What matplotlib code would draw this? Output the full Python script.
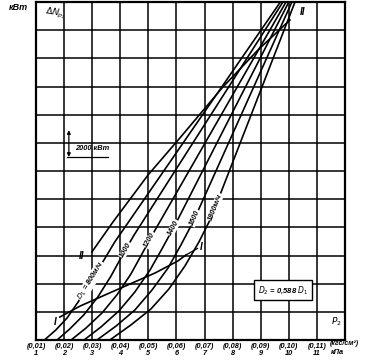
"""Nomogram: power loss dN_p2 against pressure P2 for several D1 flows."""

import numpy as np
import matplotlib.pyplot as plt

# x: pressure P2, kPa (kgf/cm2 in brackets); y: power, kW (one cell = 2000 kW)
tick_kpa = list(range(1, 12))
tick_kgf = ["(0,01)", "(0,02)", "(0,03)", "(0,04)", "(0,05)", "(0,06)",
            "(0,07)", "(0,08)", "(0,09)", "(0,10)", "(0,11)"]

x800 = [1.3, 1.7, 2.1, 2.5, 2.9, 3.35, 3.8, 9.7]
y800 = [0, 700, 1550, 2700, 4000, 5450, 6950, 24000]
x1000 = [1.75, 2.2, 2.7, 3.2, 3.67, 4.06, 4.49, 9.79]
y1000 = [0, 780, 1780, 3050, 4540, 5960, 7450, 24000]
x1200 = [2.25, 2.78, 3.35, 3.88, 4.38, 4.81, 5.24, 9.9]
y1200 = [0, 850, 1920, 3200, 4690, 6250, 7810, 24000]
x1400 = [2.71, 3.31, 3.95, 4.52, 5.06, 5.52, 5.95, 10.0]
y1400 = [0, 920, 2060, 3410, 4970, 6600, 8170, 24000]
x1600 = [3.17, 3.85, 4.52, 5.13, 5.7, 6.16, 6.59, 10.11]
y1600 = [0, 990, 2130, 3550, 5110, 6750, 8380, 24000]
x1800 = [3.63, 4.38, 5.09, 5.73, 6.3, 6.8, 7.23, 10.22]
y1800 = [0, 1070, 2200, 3620, 5250, 6960, 8660, 24000]

# boundary curves I and II
xI = [1.85, 2.57, 3.46, 4.35, 5.24, 6.05, 6.34]
yI = [1630, 2410, 3200, 3980, 4760, 5610, 6040]
xII = [2.99, 3.74, 4.99, 6.12, 7.62, 8.9, 10.04]
yII = [6250, 8380, 11720, 14340, 17890, 20590, 22720]

family = [
    (x800, y800, "$D_1$ = 800м/ч", 4190),
    (x1000, y1000, "1000", 6390),
    (x1200, y1200, "1200", 7100),
    (x1400, y1400, "1400", 7950),
    (x1600, y1600, "1600", 8660),
    (x1800, y1800, "1800м/ч", 9440),
]

FONT = ["Liberation Sans", "DejaVu Sans"]
TXT = dict(family=FONT, style="italic", fontweight="bold", color="black")


def slope_angle(ax, xs, ys, yv):
    """On-screen angle (deg) of the polyline at height yv."""
    i = int(np.clip(np.searchsorted(ys, yv), 1, len(ys) - 1))
    p0 = ax.transData.transform((xs[i - 1], ys[i - 1]))
    p1 = ax.transData.transform((xs[i], ys[i]))
    return np.degrees(np.arctan2(p1[1] - p0[1], p1[0] - p0[0]))


def main() -> None:
    fig = plt.figure(figsize=(3.69, 3.6), dpi=100)
    ax = fig.add_axes([36 / 369, 20 / 360, 309 / 369, 338 / 360])
    ax.set_xlim(1, 12)
    ax.set_ylim(0, 24000)
    ax.set_xticks(range(1, 13))
    ax.set_xticklabels([f"{k}\n{n}" for k, n in zip(tick_kgf, tick_kpa)] + [""],
                       fontsize=5.3, linespacing=1.0, **TXT)
    ax.set_yticks(range(0, 24001, 2000))
    ax.set_yticklabels([])
    ax.tick_params(length=0, pad=2)
    ax.grid(color="black", lw=1.1)
    for s in ax.spines.values():
        s.set_linewidth(1.6)

    for xs, ys, label, yl in family:
        ax.plot(xs, ys, color="black", lw=1.2, zorder=3)
        xl = np.interp(yl, ys, xs)
        ax.text(xl, yl, label, fontsize=5.3, rotation=slope_angle(ax, xs, ys, yl),
                rotation_mode="anchor", ha="center", va="center", zorder=4,
                bbox=dict(facecolor="white", edgecolor="none", pad=0.3), **TXT)

    ax.plot(xI, yI, color="black", lw=1.2, zorder=3)
    ax.plot(xII, yII, color="black", lw=1.2, zorder=3)
    ax.plot([xI[-1], 6.75], [yI[-1], 6500], color="black", lw=0.9, zorder=3)
    ax.text(6.87, 6620, "I", fontsize=7, ha="center", va="center", **TXT)
    ax.text(1.68, 1280, "I", fontsize=7, ha="center", va="center", **TXT)
    ax.text(2.64, 5960, "II", fontsize=7, ha="center", va="center", **TXT)
    ax.text(10.5, 23290, "II", fontsize=7, ha="center", va="center", **TXT)

    # scale marker
    ax.annotate("", xy=(2.17, 15100), xytext=(2.17, 12800),
                arrowprops=dict(arrowstyle="<|-|>", lw=0.9, color="black",
                                mutation_scale=5))
    ax.plot([2.1, 3.56], [12990, 12990], color="black", lw=0.9)
    ax.text(2.99, 13600, "2000 кВт", fontsize=5.3, ha="center", va="center", **TXT)

    ax.text(9.78, 3550, "$D_2$ = 0,588 $D_1$", fontsize=5.5, ha="center", va="center",
            zorder=5, bbox=dict(boxstyle="square,pad=0.5", facecolor="white",
                                edgecolor="black", lw=1.0), **TXT)
    ax.text(1.7, 23220, r"$\Delta N_{p_2}$", fontsize=6.5, ha="center", va="center",
            rotation=-10, **TXT)
    ax.text(11.71, 1280, "$P_2$", fontsize=6.5, ha="center", va="center", **TXT)

    fig.text(0.049, 0.978, "кВт", fontsize=6.5, ha="center", va="center", **TXT)
    fig.text(0.893, 0.047, "(кгс/см²)", fontsize=5, ha="left", va="center", **TXT)
    fig.text(0.915, 0.022, "кПа", fontsize=5.3, ha="center", va="center", **TXT)

    fig.savefig("out.png", dpi=100)


if __name__ == "__main__":
    main()
